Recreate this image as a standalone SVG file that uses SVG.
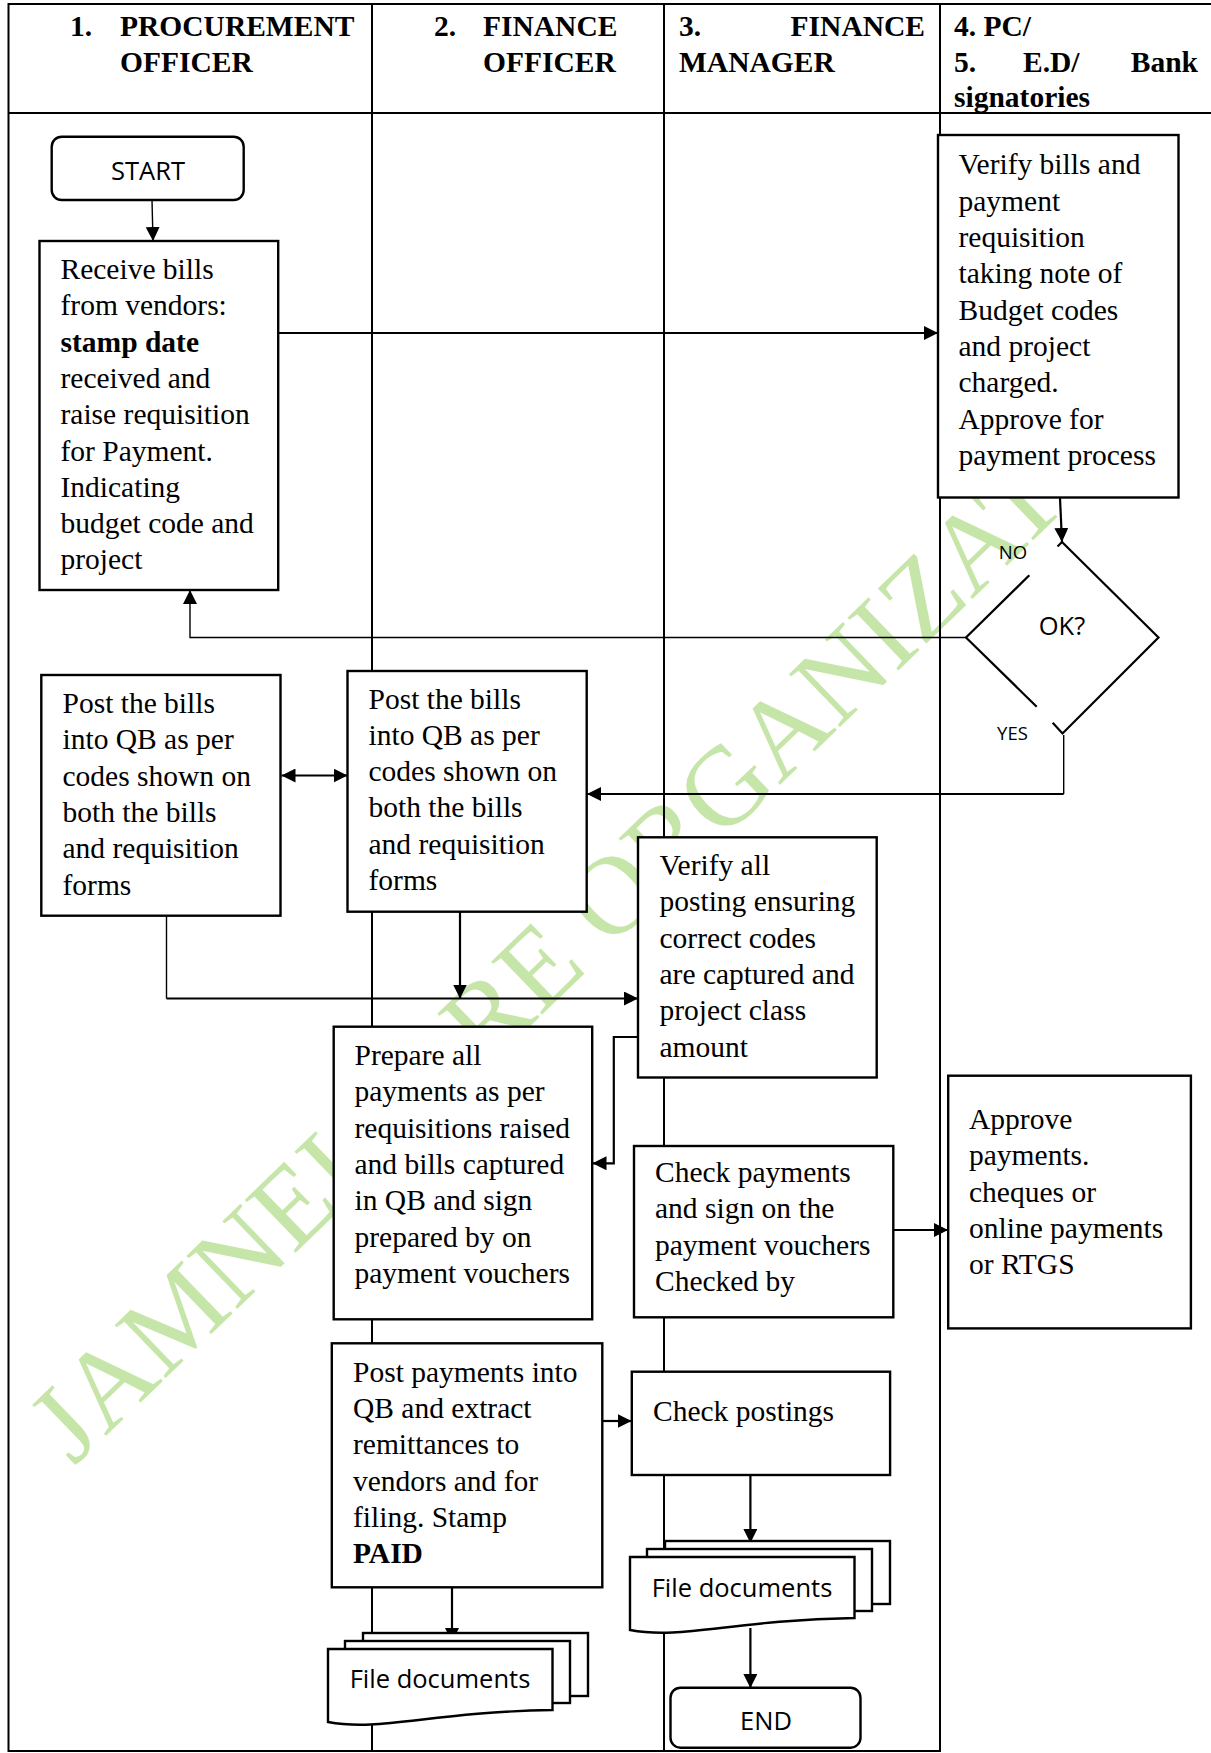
<svg xmlns="http://www.w3.org/2000/svg" width="1211" height="1753" viewBox="0 0 1211 1753">
  <style>
    .frame { stroke: #000; stroke-width: 2; fill: none; }
    .box { fill: #fff; stroke: #000; stroke-width: 2.4; }
    .edge { fill: none; stroke: #000; stroke-width: 2.2; }
    .thin { fill: none; stroke: #000; stroke-width: 1.4; }
    .hd { font-family: "Liberation Serif", "Times New Roman", serif; font-weight: bold; font-size: 29.5px; fill: #000; }
    .t { font-family: "Liberation Serif", "Times New Roman", serif; font-size: 29.5px; fill: #000; }
    .b { font-weight: bold; }
    .s { font-family: "Open Sans", "Noto Sans", sans-serif; font-size: 25.5px; fill: #000; text-anchor: middle; }
    .lbl { font-family: "Open Sans", "Noto Sans", sans-serif; font-size: 18.5px; fill: #000; text-anchor: middle; }
    .wm { font-family: "Liberation Serif", "Times New Roman", serif; font-size: 112px; fill: #c6e6a9; }
  </style>
  <defs>
    <marker id="arrow" markerUnits="userSpaceOnUse" markerWidth="14" markerHeight="14" viewBox="0 0 14 14" refX="14" refY="7" orient="auto-start-reverse">
      <path d="M0,0 L14,7 L0,14 Z" fill="#000"/>
    </marker>
  </defs>

  <rect width="1211" height="1753" fill="#fff"/>

  <!-- background watermark -->
  <g id="watermark" transform="translate(58,1482) rotate(-44)">
    <text class="wm" x="22" y="0" font-size="105">JAMNEI</text>
    <text class="wm" x="595" y="0">RE ORGANIZAT</text>
  </g>

  <!-- swimlane table -->
  <g id="lanes">
    <line class="frame" x1="8.5" y1="4" x2="1211" y2="4"/>
    <line class="frame" x1="8.5" y1="113" x2="1211" y2="113" stroke-width="2.5"/>
    <line class="frame" x1="8.5" y1="3" x2="8.5" y2="1752"/>
    <line class="frame" x1="372" y1="3" x2="372" y2="1752"/>
    <line class="frame" x1="664" y1="3" x2="664" y2="1752"/>
    <line class="frame" x1="940" y1="3" x2="940" y2="1752"/>
    <line class="frame" x1="8.5" y1="1751" x2="940" y2="1751"/>
  </g>

  <g id="lane-headers">
    <text class="hd" x="70" y="35.5">1.</text>
    <text class="hd" x="120" y="35.5">PROCUREMENT</text>
    <text class="hd" x="120" y="71.5">OFFICER</text>
    <text class="hd" x="434" y="35.5">2.</text>
    <text class="hd" x="483" y="35.5">FINANCE</text>
    <text class="hd" x="483" y="71.5">OFFICER</text>
    <text class="hd" x="679" y="35.5">3.</text>
    <text class="hd" x="925" y="35.5" text-anchor="end">FINANCE</text>
    <text class="hd" x="679" y="71.5">MANAGER</text>
    <text class="hd" x="954" y="35.5">4. PC/</text>
    <text class="hd" x="954" y="71.5">5.</text>
    <text class="hd" x="1023" y="71.5">E.D/</text>
    <text class="hd" x="1198" y="71.5" text-anchor="end">Bank</text>
    <text class="hd" x="954" y="107">signatories</text>
  </g>

  <!-- connectors -->
  <g id="connectors">
    <line class="thin" x1="152" y1="200" x2="153" y2="241" marker-end="url(#arrow)"/>
    <line class="edge" x1="278" y1="333" x2="938" y2="333" marker-end="url(#arrow)"/>
    <line class="edge" x1="1060" y1="498" x2="1062" y2="542" marker-end="url(#arrow)"/>
    <polyline class="thin" points="966,637.5 190,637.5 190,590" marker-end="url(#arrow)"/>
    <polyline class="thin" points="1063.7,735 1063.7,794"/>
    <line class="edge" x1="1063.7" y1="794" x2="587" y2="794" marker-end="url(#arrow)"/>
    <line class="edge" x1="281.5" y1="775.5" x2="347.5" y2="775.5" marker-start="url(#arrow)" marker-end="url(#arrow)"/>
    <line class="edge" x1="460" y1="912" x2="460" y2="998.5" marker-end="url(#arrow)"/>
    <polyline class="thin" points="166.5,916 166.5,998.5"/>
    <line class="edge" x1="166.5" y1="998.5" x2="638" y2="998.5" marker-end="url(#arrow)"/>
    <polyline class="edge" points="638,1037 613.8,1037 613.8,1163.3 592.5,1163.3" marker-end="url(#arrow)"/>
    <line class="edge" x1="893.5" y1="1230" x2="948" y2="1230" marker-end="url(#arrow)"/>
    <line class="edge" x1="602.5" y1="1421" x2="631.5" y2="1421" marker-end="url(#arrow)"/>
    <line class="edge" x1="750.4" y1="1475" x2="750.4" y2="1543" marker-end="url(#arrow)"/>
    <line class="edge" x1="452" y1="1587.5" x2="452" y2="1642" marker-end="url(#arrow)"/>
    <line class="edge" x1="750.4" y1="1628" x2="750.4" y2="1688" marker-end="url(#arrow)"/>
  </g>

  <!-- nodes -->
  <g id="start">
    <rect class="box" x="51.7" y="136.7" width="192" height="63.3" rx="10"/>
    <text class="s" x="148" y="180">START</text>
  </g>

  <g id="receive-bills">
    <rect class="box" x="39.5" y="241" width="238.7" height="349"/>
    <text class="t" x="60.5" y="279">
      <tspan x="60.5">Receive bills</tspan>
      <tspan x="60.5" dy="36.3">from vendors:</tspan>
      <tspan x="60.5" dy="36.3" class="b">stamp date</tspan>
      <tspan x="60.5" dy="36.3">received and</tspan>
      <tspan x="60.5" dy="36.3">raise requisition</tspan>
      <tspan x="60.5" dy="36.3">for Payment.</tspan>
      <tspan x="60.5" dy="36.3">Indicating</tspan>
      <tspan x="60.5" dy="36.3">budget code and</tspan>
      <tspan x="60.5" dy="36.3">project</tspan>
    </text>
  </g>

  <g id="verify-bills">
    <rect class="box" x="938" y="135" width="240.5" height="362.5"/>
    <text class="t" x="958.5" y="174.4">
      <tspan x="958.5">Verify bills and</tspan>
      <tspan x="958.5" dy="36.3">payment</tspan>
      <tspan x="958.5" dy="36.3">requisition</tspan>
      <tspan x="958.5" dy="36.3">taking note of</tspan>
      <tspan x="958.5" dy="36.3">Budget codes</tspan>
      <tspan x="958.5" dy="36.3">and project</tspan>
      <tspan x="958.5" dy="36.3">charged.</tspan>
      <tspan x="958.5" dy="36.3">Approve for</tspan>
      <tspan x="958.5" dy="36.3">payment process</tspan>
    </text>
  </g>

  <g id="ok-decision">
    <polygon points="1062,542 1158.5,637.5 1062.5,733.5 966,637.5" fill="#fff" stroke="none"/>
    <polyline class="edge" points="1062,542 1158.5,637.5 1062.5,733.5 1052.7,722.7"/>
    <polyline class="edge" points="1029.3,575.3 966,637.5 1036.7,706.7"/>
    <polyline class="edge" points="1062,542 1057.5,546.5"/>
    <text class="s" x="1062" y="635" font-size="24.5">OK?</text>
    <text class="lbl" x="1013" y="559">NO</text>
    <text class="lbl" x="1012.5" y="739.5">YES</text>
  </g>

  <g id="post-bills-procurement">
    <rect class="box" x="41.3" y="675" width="239.2" height="240.7"/>
    <text class="t" x="62.5" y="713">
      <tspan x="62.5">Post the bills</tspan>
      <tspan x="62.5" dy="36.3">into QB as per</tspan>
      <tspan x="62.5" dy="36.3">codes shown on</tspan>
      <tspan x="62.5" dy="36.3">both the bills</tspan>
      <tspan x="62.5" dy="36.3">and requisition</tspan>
      <tspan x="62.5" dy="36.3">forms</tspan>
    </text>
  </g>

  <g id="post-bills-finance">
    <rect class="box" x="347.5" y="671" width="239.2" height="240.7"/>
    <text class="t" x="368.5" y="708.5">
      <tspan x="368.5">Post the bills</tspan>
      <tspan x="368.5" dy="36.3">into QB as per</tspan>
      <tspan x="368.5" dy="36.3">codes shown on</tspan>
      <tspan x="368.5" dy="36.3">both the bills</tspan>
      <tspan x="368.5" dy="36.3">and requisition</tspan>
      <tspan x="368.5" dy="36.3">forms</tspan>
    </text>
  </g>

  <g id="verify-postings">
    <rect class="box" x="638" y="837.3" width="238.7" height="240.2"/>
    <text class="t" x="659.5" y="875">
      <tspan x="659.5">Verify all</tspan>
      <tspan x="659.5" dy="36.3">posting ensuring</tspan>
      <tspan x="659.5" dy="36.3">correct codes</tspan>
      <tspan x="659.5" dy="36.3">are captured and</tspan>
      <tspan x="659.5" dy="36.3">project class</tspan>
      <tspan x="659.5" dy="36.3">amount</tspan>
    </text>
  </g>

  <g id="prepare-payments">
    <rect class="box" x="333.7" y="1026.7" width="258.5" height="292.6"/>
    <text class="t" x="354.5" y="1065">
      <tspan x="354.5">Prepare all</tspan>
      <tspan x="354.5" dy="36.3">payments as per</tspan>
      <tspan x="354.5" dy="36.3">requisitions raised</tspan>
      <tspan x="354.5" dy="36.3">and bills captured</tspan>
      <tspan x="354.5" dy="36.3">in QB and sign</tspan>
      <tspan x="354.5" dy="36.3">prepared by on</tspan>
      <tspan x="354.5" dy="36.3">payment vouchers</tspan>
    </text>
  </g>

  <g id="check-payments">
    <rect class="box" x="634" y="1146" width="259.3" height="171.3"/>
    <text class="t" x="655" y="1182">
      <tspan x="655">Check payments</tspan>
      <tspan x="655" dy="36.3">and sign on the</tspan>
      <tspan x="655" dy="36.3">payment vouchers</tspan>
      <tspan x="655" dy="36.3">Checked by</tspan>
    </text>
  </g>

  <g id="approve-payments">
    <rect class="box" x="948.2" y="1075.7" width="242.7" height="252.7"/>
    <text class="t" x="969" y="1129">
      <tspan x="969">Approve</tspan>
      <tspan x="969" dy="36.3">payments.</tspan>
      <tspan x="969" dy="36.3">cheques or</tspan>
      <tspan x="969" dy="36.3">online payments</tspan>
      <tspan x="969" dy="36.3">or RTGS</tspan>
    </text>
  </g>

  <g id="post-payments">
    <rect class="box" x="331.8" y="1343.3" width="270.5" height="244"/>
    <text class="t" x="353" y="1381.7">
      <tspan x="353">Post payments into</tspan>
      <tspan x="353" dy="36.3">QB and extract</tspan>
      <tspan x="353" dy="36.3">remittances to</tspan>
      <tspan x="353" dy="36.3">vendors and for</tspan>
      <tspan x="353" dy="36.3">filing. Stamp</tspan>
      <tspan x="353" dy="36.3" class="b">PAID</tspan>
    </text>
  </g>

  <g id="check-postings">
    <rect class="box" x="631.8" y="1371.7" width="258.3" height="103.3"/>
    <text class="t" x="653" y="1421">Check postings</text>
  </g>

  <g id="file-documents-finance">
    <rect class="box" x="363" y="1633" width="225" height="63"/>
    <rect class="box" x="345" y="1641" width="225" height="62"/>
    <path class="box" d="M328,1649 H552.5 V1710 C430,1712 380,1732 328,1722 Z"/>
    <text class="s" x="440" y="1688">File documents</text>
  </g>

  <g id="file-documents-manager">
    <rect class="box" x="665" y="1541" width="225" height="63"/>
    <rect class="box" x="647" y="1549" width="225" height="62"/>
    <path class="box" d="M630,1557 H854.5 V1618 C732,1620 682,1640 630,1630 Z"/>
    <text class="s" x="742" y="1597">File documents</text>
  </g>

  <g id="end">
    <rect class="box" x="670.5" y="1687.7" width="190" height="60" rx="10"/>
    <text class="s" x="766" y="1730">END</text>
  </g>
</svg>
